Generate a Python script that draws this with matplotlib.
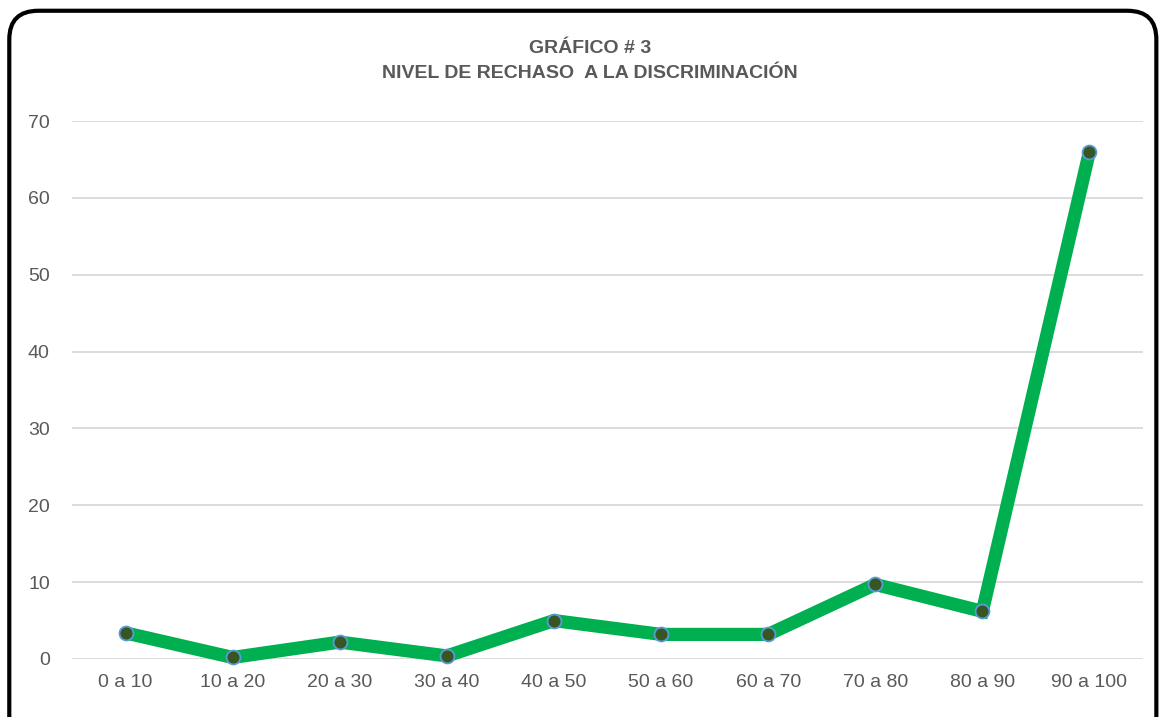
import matplotlib.pyplot as plt
from matplotlib.patches import FancyBboxPatch

# === 数据 ===
categories = ["0 a 10", "10 a 20", "20 a 30", "30 a 40", "40 a 50",
              "50 a 60", "60 a 70", "70 a 80", "80 a 90", "90 a 100"]
values = [3.4, 0.2, 2.2, 0.4, 5.0, 3.2, 3.2, 9.7, 6.2, 66.0]
y_ticks = [0, 10, 20, 30, 40, 50, 60, 70]

title_text = "GRÁFICO # 3\nNIVEL DE RECHASO  A LA DISCRIMINACIÓN"

text_color = "#595959"
plt.rcParams['font.family'] = ['Liberation Sans', 'DejaVu Sans']

fig = plt.figure(figsize=(11.61, 7.17), dpi=100)
ax = fig.add_axes([0.062, 0.0809, 0.9225, 0.7503])

x = list(range(len(categories)))
ax.plot(x, values, color="#00B050", linewidth=9.5, solid_joinstyle="miter",
        solid_capstyle="round",
        marker="o", markersize=10, markerfacecolor="#375623",
        markeredgecolor="#5B9BD5", markeredgewidth=1.3, zorder=3,
        clip_on=False)

ax.set_xlim(-0.5, len(categories) - 0.5)
ax.set_ylim(0, 70)
ax.set_yticks(y_ticks)
ax.set_xticks(x)
ax.set_xticklabels(categories)
ax.tick_params(axis="both", length=0, labelsize=14, colors=text_color)
ax.tick_params(axis="x", pad=11)
ax.tick_params(axis="y", pad=16)
ax.yaxis.grid(True, color="#D9D9D9", linewidth=1.3)
ax.set_axisbelow(True)
for s in ax.spines.values():
    s.set_visible(False)

fig.text(0.508, 0.915, title_text, ha="center", va="center", fontsize=14,
         fontweight="bold", color=text_color, linespacing=1.65)

# 圆角外框
border = FancyBboxPatch((0.008, -0.05), 0.988, 1.035,
                        boxstyle="round,pad=0,rounding_size=0.025",
                        transform=fig.transFigure, fill=False,
                        edgecolor="black", linewidth=3, mutation_aspect=1.6)
fig.patches.append(border)

fig.savefig("out.png", dpi=100)
